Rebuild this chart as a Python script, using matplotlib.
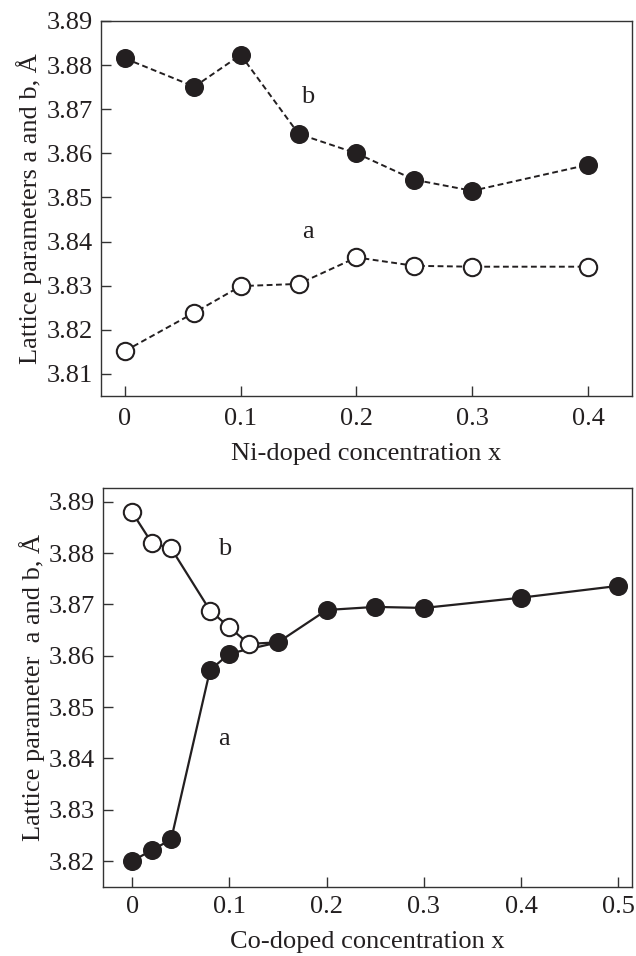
import matplotlib
matplotlib.use("Agg")
import matplotlib.pyplot as plt
from matplotlib.ticker import FixedLocator, FixedFormatter

plt.rcParams['font.family'] = ['Liberation Serif', 'DejaVu Serif']
plt.rcParams['mathtext.fontset'] = 'stix'

# ---- Data: Ni-doped (top panel) ----
ni_x = [0.0, 0.06, 0.10, 0.15, 0.20, 0.25, 0.30, 0.40]
ni_b = [3.8815, 3.8751, 3.8823, 3.8644, 3.8600, 3.8540, 3.8515, 3.8574]
ni_a = [3.8152, 3.8239, 3.8299, 3.8304, 3.8364, 3.8345, 3.8343, 3.8343]

# ---- Data: Co-doped (bottom panel) ----
co_b_x = [0.0, 0.02, 0.04, 0.08, 0.10, 0.12]
co_b = [3.8879, 3.8820, 3.8809, 3.8688, 3.8655, 3.8623]
co_a_x = [0.0, 0.02, 0.04, 0.08, 0.10, 0.15, 0.20, 0.25, 0.30, 0.40, 0.50]
co_a = [3.8200, 3.8221, 3.8242, 3.8572, 3.8604, 3.8626, 3.8689, 3.8695, 3.8693, 3.8713, 3.8736]

top_xticks = [0, 0.1, 0.2, 0.3, 0.4]
top_xlabels = ['0', '0.1', '0.2', '0.3', '0.4']
top_yticks = [3.81, 3.82, 3.83, 3.84, 3.85, 3.86, 3.87, 3.88, 3.89]
bot_xticks = [0, 0.1, 0.2, 0.3, 0.4, 0.5]
bot_xlabels = ['0', '0.1', '0.2', '0.3', '0.4', '0.5']
bot_yticks = [3.82, 3.83, 3.84, 3.85, 3.86, 3.87, 3.88, 3.89]

FS = 19
INK = '#231f20'
MS = 12.5

fig = plt.figure(figsize=(6.36, 9.56), dpi=100)

def style(ax, xpad):
    for s in ax.spines.values():
        s.set_linewidth(1.0)
        s.set_color('#333333')
    ax.tick_params(direction='in', length=7, width=1.0, color='#333333',
                   labelsize=FS, labelcolor=INK, top=False, right=False)
    ax.tick_params(axis='x', pad=xpad)
    ax.tick_params(axis='y', pad=6)

# ---- top panel ----
ax1 = fig.add_axes([0.1588, 0.5858, 0.8349, 0.3923])
ls = (0, (3.0, 1.8))
ax1.plot(ni_x, ni_b, linestyle=ls, color=INK, lw=1.4, marker='o', ms=MS,
         mfc=INK, mec=INK, mew=1.2, zorder=3)
ax1.plot(ni_x, ni_a, linestyle=ls, color=INK, lw=1.4, marker='o', ms=MS,
         mfc='white', mec=INK, mew=1.5, zorder=3)
ax1.set_xlim(-0.0207, 0.438)
ax1.set_ylim(3.805, 3.89)
ax1.xaxis.set_major_locator(FixedLocator(top_xticks))
ax1.xaxis.set_major_formatter(FixedFormatter(top_xlabels))
ax1.yaxis.set_major_locator(FixedLocator(top_yticks))
ax1.yaxis.set_major_formatter(FixedFormatter(['%.2f' % v for v in top_yticks]))
ax1.text(0.158, 3.8728, 'b', fontsize=FS, color=INK, ha='center', va='center')
ax1.text(0.158, 3.8422, 'a', fontsize=FS, color=INK, ha='center', va='center')
ax1.set_xlabel('Ni-doped concentration x', fontsize=FS, color=INK, labelpad=9)
ax1.set_ylabel('Lattice parameters a and b, Å', fontsize=FS, color=INK, labelpad=3)
style(ax1, 9)

# ---- bottom panel ----
ax2 = fig.add_axes([0.1624, 0.0725, 0.8313, 0.4167])
# b line continues to the merged point at x = 0.15
i15 = co_a_x.index(0.15)
ax2.plot(co_b_x + [co_a_x[i15]], co_b + [co_a[i15]], '-', color=INK, lw=1.6, zorder=2)
ax2.plot(co_a_x, co_a, '-', color=INK, lw=1.6, zorder=2)
ax2.plot(co_a_x, co_a, linestyle='none', marker='o', ms=MS, mfc=INK, mec=INK,
         mew=1.2, zorder=3)
ax2.plot(co_b_x, co_b, linestyle='none', marker='o', ms=MS, mfc='white', mec=INK,
         mew=1.5, zorder=4)
ax2.set_xlim(-0.0298, 0.514)
ax2.set_ylim(3.815, 3.8926)
ax2.xaxis.set_major_locator(FixedLocator(bot_xticks))
ax2.xaxis.set_major_formatter(FixedFormatter(bot_xlabels))
ax2.yaxis.set_major_locator(FixedLocator(bot_yticks))
ax2.yaxis.set_major_formatter(FixedFormatter(['%.2f' % v for v in bot_yticks]))
ax2.text(0.0947, 3.8808, 'b', fontsize=FS, color=INK, ha='center', va='center')
ax2.text(0.0947, 3.8438, 'a', fontsize=FS, color=INK, ha='center', va='center')
ax2.set_xlabel('Co-doped concentration x', fontsize=FS, color=INK, labelpad=9)
ax2.set_ylabel('Lattice parameter  a and b, Å', fontsize=FS, color=INK, labelpad=3)
style(ax2, 7)

fig.savefig('out.png', dpi=100)
